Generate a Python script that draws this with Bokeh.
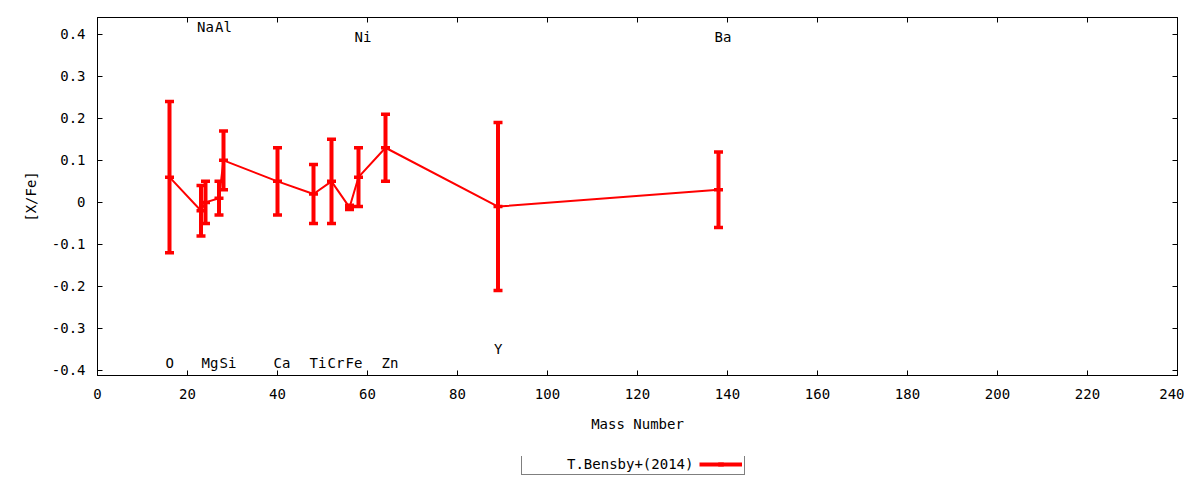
from bokeh.plotting import figure
from bokeh.models import (ColumnDataSource, FixedTicker, LinearAxis, Range1d,
                          Legend, LegendItem, LabelSet)
from bokeh.layouts import column
from bokeh.core.properties import value
from bokeh.embed import file_html
from bokeh.resources import INLINE
import math

# ---- data ----
elements = ["O", "Na", "Mg", "Al", "Si", "Ca", "Ti", "Cr", "Fe", "Ni", "Zn", "Y", "Ba"]
mass = [16, 23, 24, 27, 28, 40, 48, 52, 56, 58, 64, 89, 138]
x_fe = [0.06, -0.02, 0.00, 0.01, 0.10, 0.05, 0.02, 0.05, -0.012, 0.06, 0.13, -0.01, 0.03]
x_fe_err = [0.18, 0.06, 0.05, 0.04, 0.07, 0.08, 0.07, 0.10, 0.005, 0.07, 0.08, 0.20, 0.09]
label_y = [-0.383, 0.417, -0.383, 0.417, -0.383, -0.383, -0.383, -0.383, -0.383,
           0.393, -0.383, -0.349, 0.393]
series_name = "T.Bensby+(2014)"

x_ticks = [0, 20, 40, 60, 80, 100, 120, 140, 160, 180, 200, 220, 240]
x_tick_labels = [str(v) for v in x_ticks]
y_ticks = [-0.4, -0.3, -0.2, -0.1, 0.0, 0.1, 0.2, 0.3, 0.4]
y_tick_labels = ["-0.4", "-0.3", "-0.2", "-0.1", "0", "0.1", "0.2", "0.3", "0.4"]

x_range = (0, 240)
y_range = (-0.412, 0.440)

FONT = "DejaVu Sans Mono"
FS = "14px"
RED = "#ff0000"

lower = [v - e for v, e in zip(x_fe, x_fe_err)]
upper = [v + e for v, e in zip(x_fe, x_fe_err)]
src = ColumnDataSource(dict(x=mass, y=x_fe, lo=lower, hi=upper))
lab_src = ColumnDataSource(dict(x=mass, y=label_y, t=elements))

p = figure(frame_width=1080, frame_height=358, output_backend="svg",
           toolbar_location=None,
           x_range=Range1d(*x_range), y_range=Range1d(*y_range),
           min_border_left=97, min_border_right=7, min_border_top=17,
           min_border_bottom=81, background_fill_color="white",
           border_fill_color="white")
p.xgrid.visible = False
p.ygrid.visible = False
p.outline_line_color = "black"
p.outline_line_width = 1

def style_axis(ax, ticks, labels, show_labels):
    ax.ticker = FixedTicker(ticks=ticks)
    ax.major_label_overrides = {t: l for t, l in zip(ticks, labels)}
    ax.minor_tick_line_color = None
    ax.major_tick_in = 5
    ax.major_tick_out = 0
    ax.axis_line_color = "black"
    ax.major_tick_line_color = "black"
    ax.major_label_text_font = FONT
    if show_labels:
        ax.major_label_text_font_size = FS
        ax.major_label_text_color = "black"
    else:
        ax.major_label_text_font_size = "1px"
        ax.major_label_text_color = None
        ax.major_label_standoff = 0
    ax.axis_label_text_font = FONT
    ax.axis_label_text_font_size = FS
    ax.axis_label_text_font_style = "normal"
    ax.axis_label_text_color = "black"

style_axis(p.xaxis[0], x_ticks, x_tick_labels, True)
style_axis(p.yaxis[0], y_ticks, y_tick_labels, True)
p.xaxis[0].axis_label = "Mass Number"
p.yaxis[0].axis_label = "[X/Fe]"
p.xaxis[0].major_label_standoff = 13
p.xaxis[0].axis_label_standoff = 14
p.yaxis[0].major_label_standoff = 12
p.yaxis[0].axis_label_standoff = 10

top_ax = LinearAxis()
right_ax = LinearAxis()
style_axis(top_ax, x_ticks, x_tick_labels, False)
style_axis(right_ax, y_ticks, y_tick_labels, False)
p.add_layout(top_ax, "above")
p.add_layout(right_ax, "right")

# connecting line
p.line("x", "y", source=src, line_color=RED, line_width=2)
# error bars
p.segment("x", "lo", "x", "hi", source=src, line_color=RED, line_width=4)
for col in ("lo", "hi", "y"):
    p.scatter("x", col, source=src, marker="dash", size=9, line_color=RED,
              line_width=3.5)

# element labels
labels = LabelSet(x="x", y="y", text="t", source=lab_src, text_font=value(FONT),
                  text_font_size=value(FS), text_align="left",
                  text_baseline="middle", x_offset=-4, text_color="black")
p.add_layout(labels)

# ---- legend strip below the plot (its own ranges keep the series out of view;
#      the renderers only supply the legend sample) ----
lg = figure(width=1184, height=24, output_backend="svg", toolbar_location=None,
            x_range=Range1d(-2, -1), y_range=Range1d(-2, -1),
            x_axis_location=None, y_axis_location=None,
            min_border=0, background_fill_color="white",
            border_fill_color="white")
lg.xgrid.visible = False
lg.ygrid.visible = False
lg.outline_line_color = None

leg_src = ColumnDataSource(dict(x=mass, y=x_fe))
leg_blank = lg.line("x", "y", source=leg_src, line_alpha=0)
leg_line = lg.line("x", "y", source=leg_src, line_color=RED, line_width=4)
leg_tick = lg.scatter("x", "y", source=leg_src, marker="dash", angle=math.pi / 2,
                      size=12, line_color=RED, line_width=4)

items = [LegendItem(label=series_name, renderers=[leg_blank]),
         LegendItem(label=" ", renderers=[leg_line, leg_tick])]
legend = Legend(items=items, location=(424, 5), orientation="horizontal",
                border_line_color="black", border_line_width=1,
                background_fill_color="white", background_fill_alpha=1,
                padding=2, margin=0, spacing=6, glyph_width=43, glyph_height=14,
                label_standoff=0, label_width=0, label_height=14,
                label_text_font=FONT, label_text_font_size=FS,
                label_text_color="black", label_text_baseline="middle")
lg.add_layout(legend, "center")

open("out.html", "w").write(file_html(column(p, lg, spacing=0), INLINE))
